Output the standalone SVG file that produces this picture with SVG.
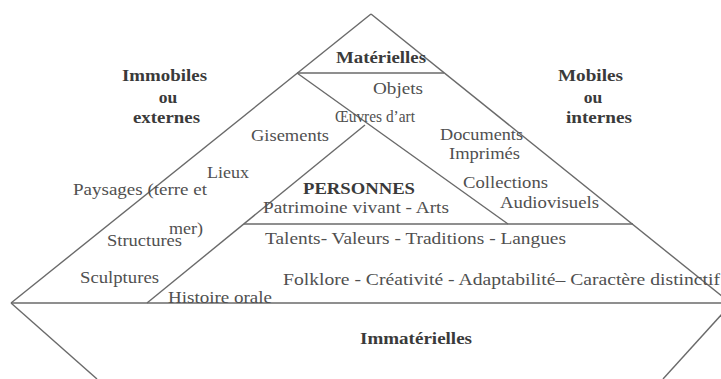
<svg xmlns="http://www.w3.org/2000/svg" width="721" height="379" viewBox="0 0 721 379">
<style>
  .ln { stroke: #6a6a6a; stroke-width: 1.4; fill: none; }
  .t { font-family: "Liberation Serif", "Times New Roman", serif; font-size: 17px; fill: #505050; }
  .b { font-family: "Liberation Serif", "Times New Roman", serif; font-size: 17.5px; font-weight: bold; fill: #3a3a3a; }
</style>
<rect width="721" height="379" fill="#ffffff"/>
<g id="connectors">
  <line class="ln" x1="371" y1="14" x2="11" y2="303"/>
  <line class="ln" x1="371" y1="14" x2="723" y2="297"/>
  <line class="ln" x1="297" y1="73" x2="444" y2="73"/>
  <line class="ln" x1="297" y1="73" x2="508" y2="224"/>
  <line class="ln" x1="365" y1="125" x2="147" y2="303"/>
  <line class="ln" x1="244" y1="224" x2="633" y2="224"/>
  <line class="ln" x1="11" y1="303" x2="721" y2="303"/>
  <line class="ln" x1="11" y1="303" x2="97" y2="379"/>
  <line class="ln" x1="722" y1="314" x2="663" y2="379"/>
</g>
<g id="materielles">
  <text class="b" x="336" y="63" textLength="90" lengthAdjust="spacingAndGlyphs">Matérielles</text>
</g>
<g id="immobiles">
  <text class="b" x="122" y="81" textLength="85" lengthAdjust="spacingAndGlyphs">Immobiles</text>
  <text class="b" x="168" y="103" text-anchor="middle">ou</text>
  <text class="b" x="133" y="123" textLength="67" lengthAdjust="spacingAndGlyphs">externes</text>
</g>
<g id="mobiles">
  <text class="b" x="558" y="81" textLength="65" lengthAdjust="spacingAndGlyphs">Mobiles</text>
  <text class="b" x="593" y="103" text-anchor="middle">ou</text>
  <text class="b" x="566" y="123" textLength="66" lengthAdjust="spacingAndGlyphs">internes</text>
</g>
<g id="objets">
  <text class="t" x="373" y="94" textLength="50" lengthAdjust="spacingAndGlyphs">Objets</text>
  <text class="t" x="335" y="122" textLength="80" lengthAdjust="spacingAndGlyphs">Œuvres d’art</text>
</g>
<g id="immobiles-items">
  <text class="t" x="251" y="141" textLength="78" lengthAdjust="spacingAndGlyphs">Gisements</text>
  <text class="t" x="207" y="178" textLength="42" lengthAdjust="spacingAndGlyphs">Lieux</text>
  <text class="t" x="73" y="195" textLength="134" lengthAdjust="spacingAndGlyphs">Paysages (terre et</text>
  <text class="t" x="169" y="234" textLength="34" lengthAdjust="spacingAndGlyphs">mer)</text>
  <text class="t" x="107" y="246" textLength="75" lengthAdjust="spacingAndGlyphs">Structures</text>
  <text class="t" x="80" y="283" textLength="79" lengthAdjust="spacingAndGlyphs">Sculptures</text>
</g>
<g id="mobiles-items">
  <text class="t" x="440" y="140" textLength="83" lengthAdjust="spacingAndGlyphs">Documents</text>
  <text class="t" x="449" y="159" textLength="71" lengthAdjust="spacingAndGlyphs">Imprimés</text>
  <text class="t" x="463" y="188" textLength="85" lengthAdjust="spacingAndGlyphs">Collections</text>
  <text class="t" x="500" y="208" textLength="99" lengthAdjust="spacingAndGlyphs">Audiovisuels</text>
</g>
<g id="personnes">
  <text class="b" x="303" y="194" textLength="112" lengthAdjust="spacingAndGlyphs">PERSONNES</text>
  <text class="t" x="263" y="213" textLength="186" lengthAdjust="spacingAndGlyphs">Patrimoine vivant - Arts</text>
</g>
<g id="immateriel-items">
  <text class="t" x="265" y="244" textLength="301" lengthAdjust="spacingAndGlyphs">Talents- Valeurs - Traditions - Langues</text>
  <text class="t" x="283" y="285" textLength="437" lengthAdjust="spacingAndGlyphs">Folklore - Créativité - Adaptabilité– Caractère distinctif</text>
  <text class="t" x="168" y="303" textLength="104" lengthAdjust="spacingAndGlyphs">Histoire orale</text>
</g>
<g id="immaterielles">
  <text class="b" x="360" y="344" textLength="112" lengthAdjust="spacingAndGlyphs">Immatérielles</text>
</g>
</svg>
